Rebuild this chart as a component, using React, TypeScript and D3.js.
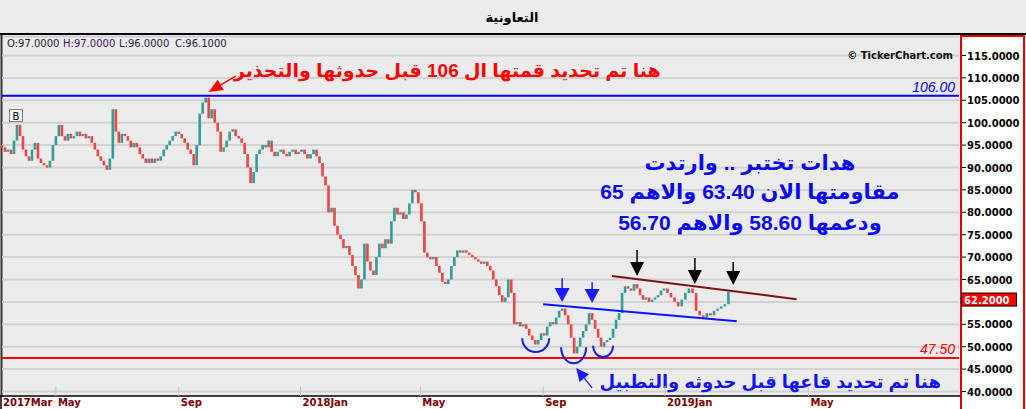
import React from "react";
import * as d3 from "d3";

const W = 1026;
const H = 409;

const title = "التعاونية";
const infoLabels = ["O:97.0000", "H:97.0000", "L:96.0000", "C:96.1000"];
const infoColors = ["#1c1c3a", "#4a1060", "#1c1c3a", "#1c1c3a"];
const yTicks = [115, 110, 105, 100, 95, 90, 85, 80, 75, 70, 65, 60, 55, 50, 45, 40];
const lastPrice = 62.2;
const resistanceLevel = 106;
const supportLevel = 47.5;

// candles sampled every 3 calendar days from 2017-03-08
const startDate = "2017-03-08";
const stepDays = 3;
const closes = [
  94.5, 93.5, 94, 93, 96, 99.5, 97, 94, 92.5, 91.5,
  94, 95.5, 92, 91, 90.5, 90, 91.5, 95, 97, 99.5,
  97, 96, 97.5, 96.5, 97, 98, 97, 97.5, 96.5, 97,
  95.5, 94, 92.5, 91.5, 90.5, 89.5, 92, 103, 98, 95.5,
  97.5, 97, 96, 94.5, 95.5, 94.5, 93, 92, 91, 92,
  91, 92, 91.5, 92.5, 94, 95, 96, 97, 98, 97.5,
  96.5, 95.5, 94, 93, 90.5, 95, 102, 104.5, 105.6, 101,
  103, 100, 98, 93.5, 94.5, 96, 98, 98.5, 97, 96.5,
  95.5, 93, 90, 86.5, 89, 93, 94, 95, 94.5, 96,
  93.5, 92.5, 93.5, 94, 93, 92.5, 93.5, 94, 93, 93.5,
  94, 93, 92, 93, 94, 92.5, 91, 88, 86, 80,
  81, 77, 75, 74, 72, 72.5, 70.5, 68, 66, 63,
  65, 73, 69, 67, 66, 70, 73, 72, 74, 73,
  78, 81, 79.5, 80, 78.5, 79.5, 82, 85, 84.5, 82,
  78, 71, 70, 69.5, 70, 68, 66.5, 64.5, 64, 65,
  68, 70, 71.5, 71, 71.5, 71, 70.5, 70, 69.5, 69,
  68.5, 69, 68, 67, 65, 63.5, 61.5, 60, 61, 65,
  62, 55, 55.5, 54.5, 55, 54, 52.5, 51.5, 50.5, 51.5,
  53, 52.5, 54.5, 55.5, 55, 56.5, 58, 58.5, 57, 55,
  52, 48.5, 50, 52, 53.5, 55, 57.5, 56, 54, 52,
  50, 51, 51.5, 52, 54, 56, 57.5, 62, 63.5, 63,
  62.5, 64, 63, 61.5, 60.5, 61, 60, 60.5, 61, 61.5,
  62.5, 63,
  62, 61, 60, 59, 60.5, 62, 63, 62, 58, 57,
  56.5, 57.5, 57, 58, 58.5, 59, 59.5, 62.2,
];
const opens = [
  95, 94.5, 93.5, 94, 93, 96, 99.5, 97, 94, 92.5,
  91.5, 94, 95.5, 92, 91, 90.5, 90, 91.5, 95, 97,
  99.5, 97, 96, 97.5, 96.5, 97, 98, 97, 97.5, 96.5,
  97, 95.5, 94, 92.5, 91.5, 90.5, 89.5, 92, 103, 98,
  95.5, 97.5, 97, 96, 94.5, 95.5, 94.5, 93, 92, 91,
  92, 91, 92, 91.5, 92.5, 94, 95, 96, 97, 98,
  97.5, 96.5, 95.5, 94, 93, 90.5, 95, 102, 104.5, 105.6,
  101, 103, 100, 98, 93.5, 94.5, 96, 98, 98.5, 97,
  96.5, 95.5, 93, 90, 86.5, 89, 93, 94, 95, 94.5,
  96, 93.5, 92.5, 93.5, 94, 93, 92.5, 93.5, 94, 93,
  93.5, 94, 93, 92, 93, 94, 92.5, 91, 88, 86,
  80, 81, 77, 75, 74, 72, 72.5, 70.5, 68, 66,
  63, 65, 73, 69, 67, 66, 70, 73, 72, 74,
  73, 78, 81, 79.5, 80, 78.5, 79.5, 82, 85, 84.5,
  82, 78, 71, 70, 69.5, 70, 68, 66.5, 64.5, 64,
  65, 68, 70, 71.5, 71, 71.5, 71, 70.5, 70, 69.5,
  69, 68.5, 69, 68, 67, 65, 63.5, 61.5, 60, 61,
  65, 62, 55, 55.5, 54.5, 55, 54, 52.5, 51.5, 50.5,
  51.5, 53, 52.5, 54.5, 55.5, 55, 56.5, 58, 58.5, 57,
  55, 52, 48.5, 50, 52, 53.5, 55, 57.5, 56, 54,
  52, 50, 51, 51.5, 52, 54, 56, 57.5, 62, 63.5,
  63, 62.5, 64, 63, 61.5, 60.5, 61, 60, 60.5, 61,
  61.5, 62.5,
  63, 62, 61, 60, 59, 60.5, 62, 63, 62, 58,
  57, 56.5, 57.5, 57, 58, 58.5, 59, 59.5,
];

// annotations in data space
const topNote = "هنا تم تحديد قمتها ال 106 قبل حدوثها والتحذير";
const bottomNote = "هنا تم تحديد قاعها قبل حدوثه والتطبيل";
const blueNoteLines = [
  "هدات تختبر .. وارتدت",
  "مقاومتها الان 63.40 والاهم 65",
  "ودعمها 58.60 والاهم 56.70",
];
const blueNotePrices = [89.4, 83.0, 76.05];
const supportTrend = [["2018-09-01", 59.5], ["2019-03-02", 55.7]];
const resistTrend = [["2018-11-09", 65.8], ["2019-04-21", 60.6]];
const blueDownArrows = [["2018-09-20", 65.3, 60.0], ["2018-10-20", 64.4, 59.75]];
const blackDownArrows = [["2018-12-04", 71.6, 65.8], ["2019-01-26", 69.8, 64.0], ["2019-02-27", 68.9, 63.8]];
const bottomArcs = [
  ["2018-08-11", "2018-09-07", 51.9, 48.8],
  ["2018-09-19", "2018-10-14", 49.9, 46.3],
  ["2018-10-21", "2018-11-10", 50.2, 47.7],
];
const redArrow = [["2017-10-28", 110.4], ["2017-10-01", 106.85]];
const blueArrow = [["2018-10-20", 40.8], ["2018-10-04", 45.25]];

const toDate = (s: string) => new Date(s + "T00:00:00Z");

const x = d3
  .scaleUtc()
  .domain([toDate("2017-03-08"), toDate("2019-01-01"), toDate("2019-09-03")])
  .range([2, 665, 958]);
const y = d3.scaleLinear().domain([40, 115]).range([391.5, 55.5]);
const X = (s: string) => x(toDate(s));

const FONT_AR = "'Liberation Sans', 'DejaVu Sans', sans-serif";
const FONT_UI = "'DejaVu Sans', sans-serif";

function DownArrow({ cx, y0, y1, color, hw, hh }: any) {
  return (
    <g>
      <line x1={cx} y1={y0} x2={cx} y2={y1 - hh + 1} stroke={color} strokeWidth={1.5} />
      <path d={`M${cx - hw},${y1 - hh} L${cx + hw},${y1 - hh} L${cx},${y1} Z`} fill={color} />
    </g>
  );
}

function DiagArrow({ x0, y0, x1, y1, color, len, hw }: any) {
  const dx = x1 - x0;
  const dy = y1 - y0;
  const L = Math.sqrt(dx * dx + dy * dy);
  const ux = dx / L;
  const uy = dy / L;
  const bx = x1 - ux * len;
  const by = y1 - uy * len;
  const px = -uy;
  const py = ux;
  return (
    <g>
      <line x1={x0} y1={y0} x2={bx} y2={by} stroke={color} strokeWidth={1.3} />
      <path
        d={`M${bx + px * hw},${by + py * hw} L${bx - px * hw},${by - py * hw} L${x1},${y1} Z`}
        fill={color}
      />
    </g>
  );
}

export default function App() {
  const dates = closes.map((_, i) => d3.utcDay.offset(toDate(startDate), i * stepDays));
  const ticks = x.ticks(d3.utcMonth.every(4) as any).filter((d) => x(d) < 900);
  const fmt = (d: Date) => (d.getUTCMonth() === 0 ? `${d.getUTCFullYear()}Jan` : d3.utcFormat("%b")(d));

  const chartLeft = 2;
  const chartRight = 959;
  const chartBottom = 396;

  return (
    <svg
      width={W}
      height={H}
      style={{ position: "absolute", left: 0, top: 0, display: "block" }}
      xmlns="http://www.w3.org/2000/svg"
    >
      <rect x={0} y={0} width={W} height={H} fill="#ebebeb" />
      {/* title */}
      <text x={512} y={22} textAnchor="middle" fontFamily={FONT_AR} fontWeight="bold" fontSize={13} fill="#000">
        {title}
      </text>
      <line x1={0} x2={W} y1={34} y2={34} stroke="#000" strokeWidth={2} />
      <line x1={0} x2={chartRight} y1={36.5} y2={36.5} stroke="#c8c8c8" strokeWidth={1.5} />
      <line x1={1.5} x2={1.5} y1={35} y2={chartBottom} stroke="#333" strokeWidth={2} />

      {/* gridlines */}
      {yTicks.map((v) => (
        <line key={v} x1={chartLeft} x2={chartRight} y1={y(v)} y2={y(v)} stroke="#d2d2d2" strokeWidth={2} />
      ))}

      {/* info */}
      {infoLabels.map((t, i) => (
        <text key={t} x={7 + i * 56} y={47} fontFamily={FONT_UI} fontSize={10} fill={infoColors[i]}>
          {t}
        </text>
      ))}
      <text x={953} y={59} textAnchor="end" fontFamily={FONT_UI} fontWeight="bold" fontSize={10} fill="#111">
        © TickerChart.com
      </text>

      {/* level lines */}
      <line x1={chartLeft} x2={chartRight} y1={y(resistanceLevel)} y2={y(resistanceLevel)} stroke="#0000ff" strokeWidth={2} />
      <text x={955} y={y(resistanceLevel) - 4} textAnchor="end" fontFamily={FONT_AR} fontStyle="italic" fontSize={14} fill="#0000ff">
        {resistanceLevel.toFixed(2)}
      </text>
      <line x1={chartLeft} x2={chartRight} y1={y(supportLevel)} y2={y(supportLevel)} stroke="#ff0000" strokeWidth={2} />
      <text x={955} y={y(supportLevel) - 4} textAnchor="end" fontFamily={FONT_AR} fontStyle="italic" fontSize={14} fill="#ff0000">
        {supportLevel.toFixed(2)}
      </text>

      {/* candles */}
      {closes.map((c, i) => {
        const o = opens[i];
        const cx = x(dates[i]);
        const top = y(Math.max(o, c));
        const h = Math.max(1.5, Math.abs(y(o) - y(c)));
        return (
          <rect key={i} x={cx - 1.3} y={top} width={2.6} height={h} fill={c >= o ? "#2f9e96" : "#f04444"} />
        );
      })}

      {/* B marker */}
      <rect x={9.5} y={109.5} width={13} height={12} fill="#f4f4f4" stroke="#808080" strokeWidth={1} />
      <text x={16} y={119.5} textAnchor="middle" fontFamily={FONT_UI} fontSize={10} fill="#000">
        B
      </text>

      {/* trend lines */}
      <line
        x1={X(supportTrend[0][0] as string)} y1={y(supportTrend[0][1] as number)}
        x2={X(supportTrend[1][0] as string)} y2={y(supportTrend[1][1] as number)}
        stroke="#0a14ff" strokeWidth={2}
      />
      <line
        x1={X(resistTrend[0][0] as string)} y1={y(resistTrend[0][1] as number)}
        x2={X(resistTrend[1][0] as string)} y2={y(resistTrend[1][1] as number)}
        stroke="#7f1010" strokeWidth={2}
      />

      {/* arcs */}
      {bottomArcs.map((a, i) => {
        const x0 = X(a[0] as string);
        const x1 = X(a[1] as string);
        const yt = y(a[2] as number);
        const yb = y(a[3] as number);
        const rx = (x1 - x0) / 2;
        const ry = yb - yt;
        return (
          <path key={i} d={`M${x0},${yt} A${rx},${ry} 0 0 0 ${x1},${yt}`} fill="none" stroke="#1020e0" strokeWidth={2} />
        );
      })}

      {/* arrows */}
      {blueDownArrows.map((a, i) => (
        <DownArrow key={i} cx={X(a[0] as string)} y0={y(a[1] as number)} y1={y(a[2] as number)} color="#1a1aff" hw={7.5} hh={14} />
      ))}
      {blackDownArrows.map((a, i) => (
        <DownArrow key={i} cx={X(a[0] as string)} y0={y(a[1] as number)} y1={y(a[2] as number)} color="#000" hw={7} hh={14} />
      ))}
      <DiagArrow
        x0={X(redArrow[0][0] as string)} y0={y(redArrow[0][1] as number)}
        x1={X(redArrow[1][0] as string)} y1={y(redArrow[1][1] as number)}
        color="#ff0000" len={14} hw={6}
      />
      <DiagArrow
        x0={X(blueArrow[0][0] as string)} y0={y(blueArrow[0][1] as number)}
        x1={X(blueArrow[1][0] as string)} y1={y(blueArrow[1][1] as number)}
        color="#1a1aff" len={13} hw={6}
      />

      {/* annotation texts */}
      <text x={X("2018-05-28")} y={y(110.2)} textAnchor="middle" direction="rtl" fontFamily={FONT_AR} fontWeight="bold" fontSize={19} fill="#ff0000">
        {topNote}
      </text>
      {blueNoteLines.map((t, i) => (
        <text key={i} x={X("2019-03-13")} y={y(blueNotePrices[i])} textAnchor="middle" direction="rtl" fontFamily={FONT_AR} fontWeight="bold" fontSize={21} fill="#0a0aee">
          {t}
        </text>
      ))}
      <text x={X("2019-03-30")} y={y(40.8)} textAnchor="middle" direction="rtl" fontFamily={FONT_AR} fontWeight="bold" fontSize={18} fill="#1414ee">
        {bottomNote}
      </text>

      {/* x axis strip */}
      <rect x={0} y={chartBottom} width={chartRight + 2} height={H - chartBottom} fill="#ffffff" />
      <line x1={0} x2={chartRight + 2} y1={chartBottom} y2={chartBottom} stroke="#000" strokeWidth={1.5} />
      <line x1={1} x2={1} y1={chartBottom} y2={H} stroke="#000" strokeWidth={1.5} />
      {ticks.map((d, i) => (
        <line key={i} x1={x(d)} x2={x(d)} y1={386} y2={chartBottom} stroke="#c4c4c4" strokeWidth={1} />
      ))}
      <text x={3} y={406} fontFamily={FONT_UI} fontWeight="bold" fontSize={10} fill="#7a0000">
        2017Mar
      </text>
      {ticks.map((d, i) => (
        <text key={i} x={x(d) + 2} y={406} fontFamily={FONT_UI} fontWeight="bold" fontSize={10} fill="#7a0000">
          {fmt(d)}
        </text>
      ))}

      {/* right axis */}
      <rect x={961} y={36} width={63} height={H} fill="#ffffff" stroke="#e00000" strokeWidth={2} />
      {yTicks.map((v) => (
        <g key={v}>
          <line x1={962} x2={966} y1={y(v)} y2={y(v)} stroke="#000" strokeWidth={1} />
          {Math.abs(y(v) - y(lastPrice) - 7) > 10 && (
            <text x={967} y={y(v) + 4} fontFamily={FONT_UI} fontWeight="bold" fontSize={10} fill="#000">
              {v.toFixed(4)}
            </text>
          )}
        </g>
      ))}
      <rect x={961.5} y={y(lastPrice) + 1} width={55} height={13} fill="#ff0000" stroke="#000" strokeWidth={1} />
      <text x={964} y={y(lastPrice) + 11.5} fontFamily={FONT_UI} fontWeight="bold" fontSize={10} fill="#ffffff">
        {lastPrice.toFixed(4)}
      </text>
    </svg>
  );
}
